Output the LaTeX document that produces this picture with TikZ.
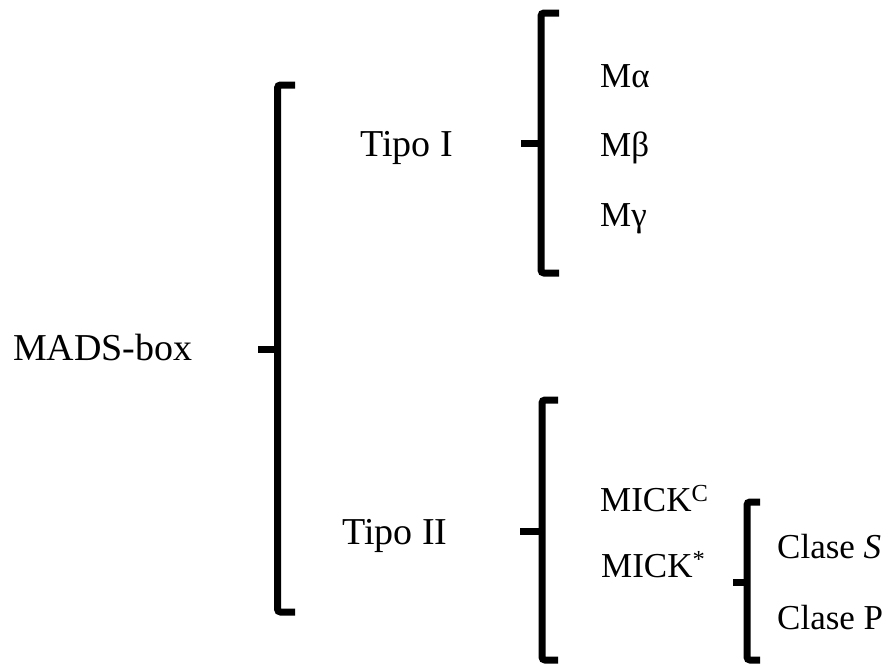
\documentclass[tikz,border=0pt]{standalone}
\usepackage{fontspec}
\setmainfont{Liberation Serif}
\begin{document}
\begin{tikzpicture}[x=1pt,y=-1pt,
  brk/.style={line width=7pt,rounded corners=3pt},
  tickline/.style={line width=7pt},
  lvl/.style={anchor=base west,inner sep=0pt,font=\fontsize{38}{40}\selectfont},
  leaf/.style={anchor=base west,inner sep=0pt,font=\fontsize{35}{37}\selectfont}]
\useasboundingbox (0,0) rectangle (895,664);
% texts
\node[lvl] (mads) at (13,360) {MADS-box};
\node[lvl] (t1) at (360,156) {Tipo I};
\node[lvl] (t2) at (342,544) {Tipo II};
\node[leaf] (ma) at (600,87) {Mα};
\node[leaf] (mb) at (600,156) {Mβ};
\node[leaf] (mg) at (600,226) {Mγ};
\node[leaf] (mc) at (600,511) {MICK\textsuperscript{C}};
\node[leaf] (ms) at (601,577) {MICK\textsuperscript{*}};
\node[leaf] (cs) at (777,558) {Clase \textit{S}};
\node[leaf] (cp) at (777,629) {Clase P};
% main bracket
\coordinate (b0t) at (295,85); \coordinate (b0b) at (295,612);
\coordinate (b0m) at (277.5,349); \coordinate (b0k) at (258,349);
\draw[brk] (b0t) -- (277.5,85) -- (277.5,612) -- (b0b);
\draw[tickline] (b0k) -- (b0m);
% Tipo I bracket
\coordinate (b1t) at (559,13); \coordinate (b1b) at (559,273);
\coordinate (b1m) at (541,143); \coordinate (b1k) at (521,143);
\draw[brk] (b1t) -- (541,13) -- (541,273) -- (b1b);
\draw[tickline] (b1k) -- (b1m);
% Tipo II bracket
\coordinate (b2t) at (558,400); \coordinate (b2b) at (558,660);
\coordinate (b2m) at (542,531); \coordinate (b2k) at (520,531);
\draw[brk] (b2t) -- (542,400) -- (542,660) -- (b2b);
\draw[tickline] (b2k) -- (b2m);
% MICK* bracket
\coordinate (b3t) at (760,502); \coordinate (b3b) at (760,660);
\coordinate (b3m) at (747,582); \coordinate (b3k) at (733,582);
\draw[brk] (b3t) -- (747,502) -- (747,660) -- (b3b);
\draw[tickline] (b3k) -- (b3m);
\end{tikzpicture}
\end{document}
